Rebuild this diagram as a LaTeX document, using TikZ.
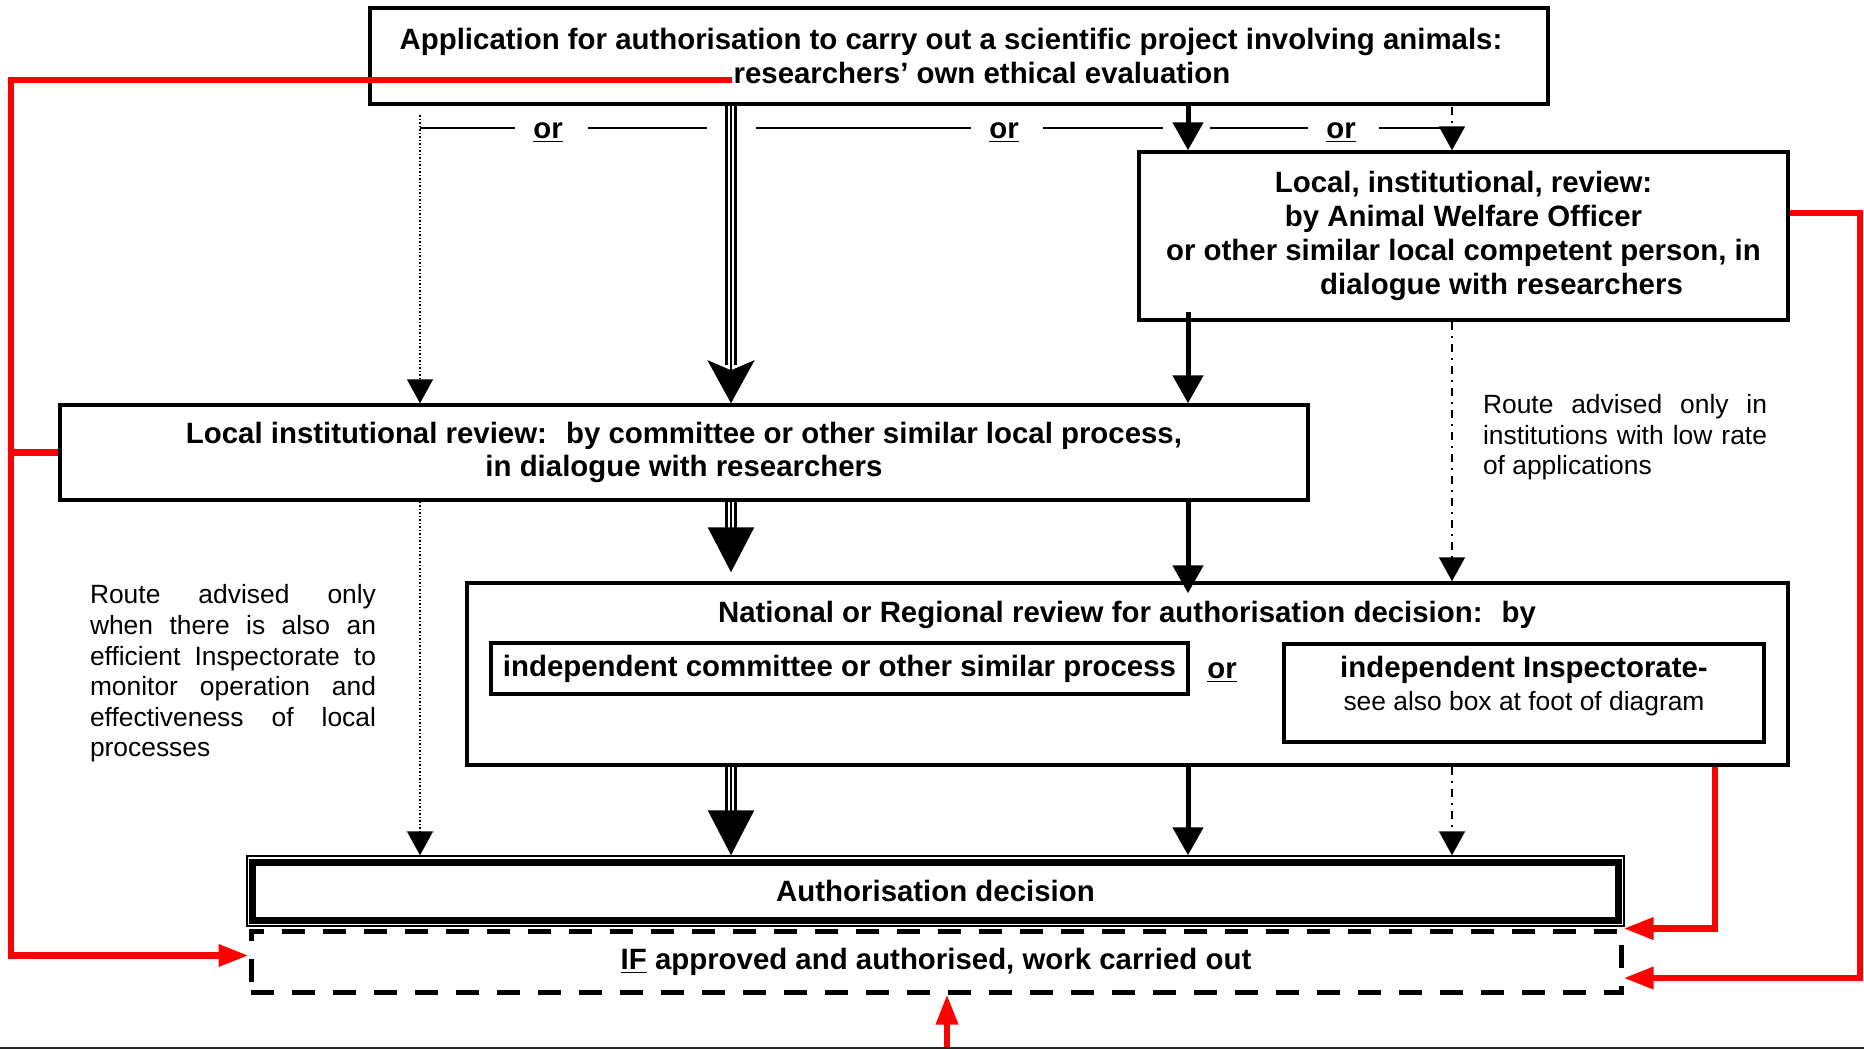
\documentclass[tikz,border=0pt]{standalone}
\usepackage{fontspec}
\setmainfont{Liberation Sans}
\usetikzlibrary{arrows.meta,calc}
\begin{document}
\begin{tikzpicture}[x=0.5pt,y=-0.5pt,
  bf/.style={font=\fontsize{14.7}{16.9}\selectfont\bfseries},
  rm/.style={font=\fontsize{13.2}{15.3}\selectfont},
  box/.style={draw, line width=1.75pt, inner sep=0pt, align=center, bf},
  thinline/.style={line width=0.75pt},
  dotline/.style={line width=0.75pt, dash pattern=on 0.75pt off 1pt},
  dashdot/.style={line width=1pt, dash pattern=on 4pt off 3pt on 1pt off 3pt},
  solidline/.style={line width=2.5pt},
  shaftthree/.style={line width=6.25pt, postaction={draw=white, line width=3.25pt}, postaction={draw=black, line width=1.25pt}},
  midline/.style={line width=1.25pt},
  smalltip/.style={-{Triangle[length=12pt,width=13pt]}},
  soltip/.style={-{Triangle[length=14pt,width=15pt]}},
  bigtip/.style={-{Triangle[length=22.5pt,width=23pt]}},
  redline/.style={draw=red, line width=3.25pt},
  redtip/.style={-{Triangle[length=15pt,width=10.5pt]}},
  ortext/.style={bf, anchor=base, inner sep=0pt}
]
\useasboundingbox (0,0) rectangle (1864,1049);

% ---------- boxes ----------
\node[box, minimum width=589pt, minimum height=48pt] (app) at (959,56)
  {\hspace*{-8pt}Application for authorisation to carry out a scientific project involving animals:\\\hspace*{23pt}researchers' own ethical evaluation};
\node[box, minimum width=324.5pt, minimum height=84pt] (awo) at (1463.5,236)
  {Local, institutional, review:\\by Animal Welfare Officer\\or other similar local competent person, in\\\hspace*{38pt}dialogue with researchers};
\node[box, minimum width=624pt, minimum height=47.5pt] (local) at (684,452.5)
  {Local institutional review:~ by committee or other similar local process,\\in dialogue with researchers};
\node[box, minimum width=660.5pt, minimum height=91pt] (nat) at (1127.5,674) {};
\node[bf, inner sep=0pt] (nattitle) at (1127,615) {National or Regional review for authorisation decision:~ by};
\node[box, line width=2pt, minimum width=348.5pt, minimum height=25.5pt] (indcom) at (839.5,668.5)
  {independent committee or other similar process};
\node[ortext] (natror) at (1222,678) {\underline{or}};
\node[draw, line width=2pt, minimum width=240pt, minimum height=49pt, inner sep=0pt] (insp) at (1524,693) {};
\node[align=center, inner sep=0pt, font=\fontsize{13.2}{16.5}\selectfont] (insptext) at (1524,686.5)
  {{\fontsize{14.7}{16.5}\selectfont\bfseries independent Inspectorate-}\\see also box at foot of diagram};

\node[draw, line width=0.75pt, minimum width=688.5pt, minimum height=35pt, inner sep=0pt, bf] (auth) at (935.5,891)
  {Authorisation decision};
\draw[line width=3.5pt] ($(auth.south west)+(6.5,-6.5)$) rectangle ($(auth.north east)+(-6.5,7.5)$);
\node[draw, line width=2.5pt, dash pattern=on 11.5pt off 9pt, minimum width=685pt, minimum height=30.5pt, inner sep=0pt, bf] (ifbox) at (936,961.5)
  {\underline{IF} approved and authorised, work carried out};

% ---------- side texts ----------
\node[rm, align=left, inner sep=0pt] (ltext) at (233,673.5)
  {\makebox[143pt][s]{Route advised only}\\
   \makebox[143pt][s]{when there is also an}\\
   \makebox[143pt][s]{efficient Inspectorate to}\\
   \makebox[143pt][s]{monitor operation and}\\
   \makebox[143pt][s]{effectiveness of local}\\
   \makebox[143pt][l]{processes}};
\node[rm, align=left, inner sep=0pt] (rtext) at (1625,437.5)
  {\makebox[142pt][s]{Route advised only in}\\
   \makebox[142pt][s]{institutions with low rate}\\
   \makebox[142pt][l]{of applications}};

% ---------- "or" row ----------
\node[ortext] (or1) at (548,138) {\underline{or}};
\node[ortext] (or2) at (1004,138) {\underline{or}};
\node[ortext] (or3) at (1341,138) {\underline{or}};
\draw[thinline] (420,128) -- (515,128);
\draw[thinline] (588,128) -- (707,128);
\draw[thinline] (756,128) -- (971,128);
\draw[thinline] (1043,128) -- (1163,128);
\draw[thinline] (1210,128) -- (1308,128);
\draw[thinline] (1379,128) -- (1441,128);

% ---------- columns ----------
\coordinate (cA) at (420,115);
\coordinate (cB) at (731,104);
\coordinate (cC) at (1188,104);
\coordinate (cD) at (1452,107);

% column A (dotted)
\draw[dotline, smalltip] (cA) -- (local.north -| cA);
\draw[dotline, smalltip] (local.south -| cA) -- (auth.north -| cA);

% column B (triple)
\draw[shaftthree] (app.south -| cB) -- ($(local.north -| cB)+(0,-38)$);
\draw[midline, -{Stealth[length=21.5pt,width=23.5pt,inset=5pt]}] (app.south -| cB) -- (local.north -| cB);
\draw[shaftthree] (local.south -| cB) -- ($(nat.north -| cB)+(0,-51)$);
\draw[midline, bigtip, shorten >=4.5pt] (local.south -| cB) -- (nat.north -| cB);
\draw[shaftthree] (nat.south -| cB) -- ($(auth.north -| cB)+(0,-40)$);
\draw[midline, bigtip] (nat.south -| cB) -- (auth.north -| cB);

% column C (solid)
\draw[solidline, soltip] (app.south -| cC) -- (awo.north -| cC);
\draw[solidline, soltip] ($(awo.south -| cC)+(0,-10)$) -- (local.north -| cC);
\draw[solidline, soltip, shorten >=-6pt] (local.south -| cC) -- (nat.north -| cC);
\draw[solidline, soltip] (nat.south -| cC) -- (auth.north -| cC);

% column D (dash-dot)
\draw[dashdot, smalltip] (cD) -- (awo.north -| cD);
\draw[dashdot, smalltip] (awo.south -| cD) -- (nat.north -| cD);
\draw[dashdot, smalltip] (nat.south -| cD) -- (auth.north -| cD);

% ---------- red feedback lines ----------
\coordinate (rTop) at (732,80);
\coordinate (rLeft) at (11,80);
\draw[redline, redtip] (rTop) -- (rLeft) |- ($(ifbox.west)+(0,-6)$);
\draw[redline] (local.west) -- (local.west -| rLeft);
\coordinate (rRight) at (1860,213);
\draw[redline, redtip] ($(awo.east)+(0,-23)$) -- (rRight) |- ($(ifbox.east)+(0,16.5)$);
\coordinate (rNat) at (1715,0);
\draw[redline, redtip] (nat.south -| rNat) |- (ifbox.north east);
\coordinate (rBot) at (947,1049);
\draw[redline, redtip] (rBot) -- (ifbox.south -| rBot);

% bottom rule
\draw[line width=0.75pt, black!85] (0,1048) -- (1864,1048);
\end{tikzpicture}
\end{document}
